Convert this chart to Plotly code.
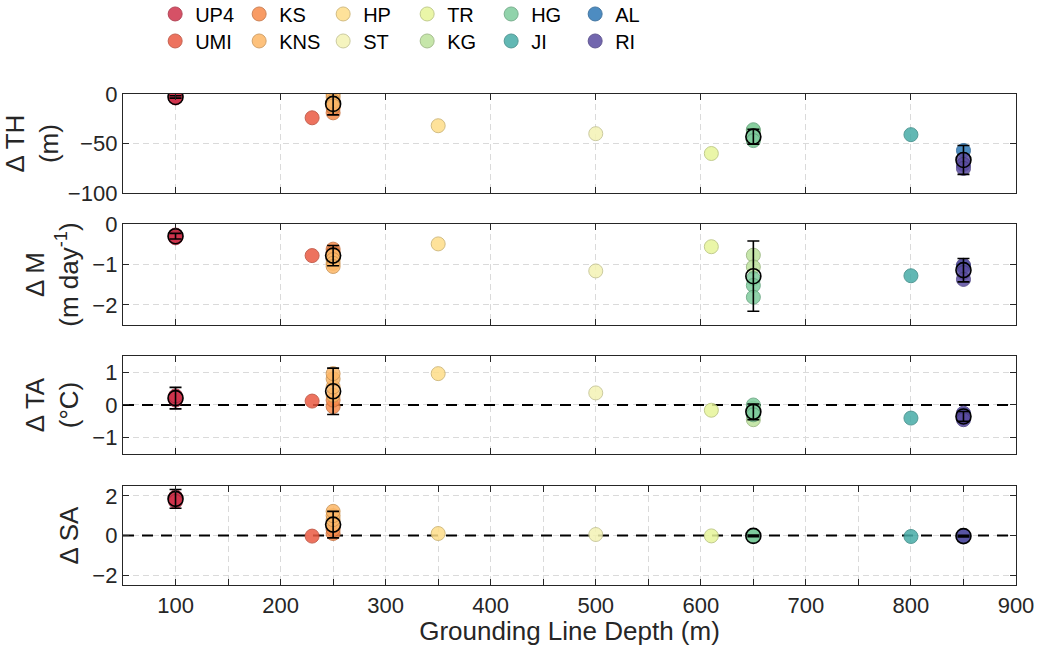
import plotly.graph_objects as go

# Glaciers, grounding-line depth (m) and colours
glaciers = ["UP4", "UMI", "KS", "KNS", "HP", "ST", "TR", "KG", "HG", "JI", "AL", "RI"]
depth = [100, 230, 250, 250, 350, 500, 610, 650, 650, 800, 850, 850]
colors = ["#D0334C", "#EB5A42", "#F78A4A", "#FDB766", "#FEDE89", "#F4F3B4",
          "#E7F59A", "#BDE29C", "#7ECC9D", "#47ACA7", "#2F78B7", "#5A4CA0"]
legend_row = [1, 2, 1, 2, 1, 2, 1, 2, 1, 2, 1, 2]

# Per-run changes for each glacier
d_th = [[-2, -3, -4], [-24], [-19, -14], [0, -3, -7, -12], [-32], [-40], [-60],
        [-37, -46], [-36, -42, -47], [-41], [-57], [-66, -71, -75]]
d_m = [[-0.27, -0.30, -0.34], [-0.78], [-0.62, -0.70], [-0.78, -0.88, -0.97, -1.05],
       [-0.49], [-1.16], [-0.56], [-0.77, -1.06], [-1.35, -1.52, -1.81], [-1.28],
       [-1.05], [-1.02, -1.20, -1.37]]
d_ta = [[0.15, 0.22, 0.28], [0.12], [-0.05, 0.15], [0.30, 0.55, 0.80, 0.96],
        [0.96], [0.37], [-0.16], [-0.10, -0.45], [0.0, -0.20, -0.30], [-0.40],
        [-0.30], [-0.25, -0.40, -0.45]]
d_sa = [[1.95, 1.85, 1.72], [-0.03], [0.10, 0.30], [0.50, 0.80, 1.00, 1.22],
        [0.10], [0.05], [-0.02], [0.0, -0.01], [0.0, -0.02, -0.01], [-0.05],
        [-0.03], [-0.03]]

# Group means and spread
group_depth = [100, 250, 650, 850]
th_mean = [-3, -10, -43, -66.5]
th_err = [1.2, 11, 7.5, 14.5]
m_mean = [-0.30, -0.78, -1.29, -1.14]
m_err = [0.07, 0.25, 0.87, 0.29]
ta_mean = [0.21, 0.42, -0.21, -0.35]
ta_err = [0.33, 0.71, 0.24, 0.15]
sa_mean = [1.85, 0.55, -0.02, -0.03]
sa_err = [0.47, 0.67, 0.04, 0.04]

x_range = [50, 900]
panels = [
    ("Δ TH<br>(m)", d_th, th_mean, th_err, [-100, 0], [-100, -50, 0]),
    ("Δ M<br>(m day<sup>-1</sup>)", d_m, m_mean, m_err, [-2.5, 0], [-2, -1, 0]),
    ("Δ TA<br>(°C)", d_ta, ta_mean, ta_err, [-1.5, 1.5], [-1, 0, 1]),
    ("Δ SA", d_sa, sa_mean, sa_err, [-2.5, 2.5], [-2, 0, 2]),
]
domains = [[0.798, 1.0], [0.5295, 0.735], [0.2668, 0.4664], [0.0, 0.2016]]

FONT = "Liberation Sans, Arial, Helvetica, sans-serif"
AXC = "#262626"
GRID = dict(showgrid=True, gridcolor="#dadada", gridwidth=1, griddash="6px,4px")


def darker(hexc, f=0.8):
    h = hexc.lstrip("#")
    r, g, b = (int(h[i:i + 2], 16) for i in (0, 2, 4))
    return "rgb(%d,%d,%d)" % (r * f, g * f, b * f)


fig = go.Figure()

for p, (title, vals, mean, err, yr, yt) in enumerate(panels):
    ax = "" if p == 0 else str(p + 1)
    for g, name in enumerate(glaciers):
        v = vals[g]
        fig.add_trace(go.Scatter(
            x=[depth[g]] * len(v), y=v, mode="markers", name=name,
            xaxis="x" + ax, yaxis="y" + ax,
            legendgroup=name, showlegend=(p == 0),
            legend="legend" if legend_row[g] == 1 else "legend2",
            marker=dict(size=14, color=colors[g], opacity=0.85,
                        line=dict(color=darker(colors[g]), width=1)),
            hoverinfo="skip"))
    fig.add_trace(go.Scatter(
        x=group_depth, y=mean, mode="markers", showlegend=False,
        xaxis="x" + ax, yaxis="y" + ax,
        marker=dict(size=15, color="rgba(0,0,0,0)",
                    line=dict(color="black", width=1.6)),
        error_y=dict(type="data", array=err, visible=True, color="black",
                     thickness=1.6, width=6),
        hoverinfo="skip"))

    xkey = "xaxis" + ax
    ykey = "yaxis" + ax
    last = p == 3
    xax = dict(
        domain=[0, 1], anchor="y" + ax, range=x_range,
        tickmode="linear", tick0=100, dtick=100,
        showticklabels=last, ticks="inside", ticklen=6, tickwidth=1.4,
        tickcolor=AXC, showline=True, linecolor=AXC, linewidth=1.4,
        mirror="ticks", zeroline=False,
        tickfont=dict(family=FONT, size=22, color=AXC), **GRID,
    )
    if last:
        xax["minor"] = dict(tick0=50, dtick=50, ticks="inside", ticklen=6,
                            tickwidth=1.4, tickcolor=AXC, **GRID)
        xax["title"] = dict(text="Grounding Line Depth (m)",
                            font=dict(family=FONT, size=26, color=AXC),
                            standoff=0)
    fig.layout[xkey] = xax
    fig.layout[ykey] = dict(
        domain=domains[p], anchor="x" + ax, range=yr,
        tickmode="array", tickvals=yt,
        ticks="inside", ticklen=6, tickwidth=1.4, tickcolor=AXC,
        showline=True, linecolor=AXC, linewidth=1.4, mirror="ticks",
        zeroline=False,
        tickfont=dict(family=FONT, size=22, color=AXC), **GRID,
        title=dict(text=title, font=dict(family=FONT, size=26, color=AXC),
                   standoff=6),
    )

# Zero reference lines for temperature and salinity anomalies
for ax in ("3", "4"):
    fig.add_shape(type="line", xref="x" + ax, yref="y" + ax,
                  x0=x_range[0], x1=x_range[1], y0=0, y1=0, layer="between",
                  line=dict(color="black", width=2.2, dash="11px,8px"))

legend_style = dict(orientation="h", xanchor="left", yanchor="middle",
                    bgcolor="rgba(0,0,0,0)", entrywidth=39,
                    entrywidthmode="pixels", itemclick=False,
                    font=dict(family=FONT, size=20, color="black"),
                    tracegroupgap=0)
fig.update_layout(
    width=1039, height=646,
    margin=dict(l=123, r=23, t=94, b=61, autoexpand=False),
    paper_bgcolor="white", plot_bgcolor="white",
    legend=dict(x=0.036, y=1.163, **legend_style),
    legend2=dict(x=0.036, y=1.108, **legend_style),
)

fig.write_html("out.html")
